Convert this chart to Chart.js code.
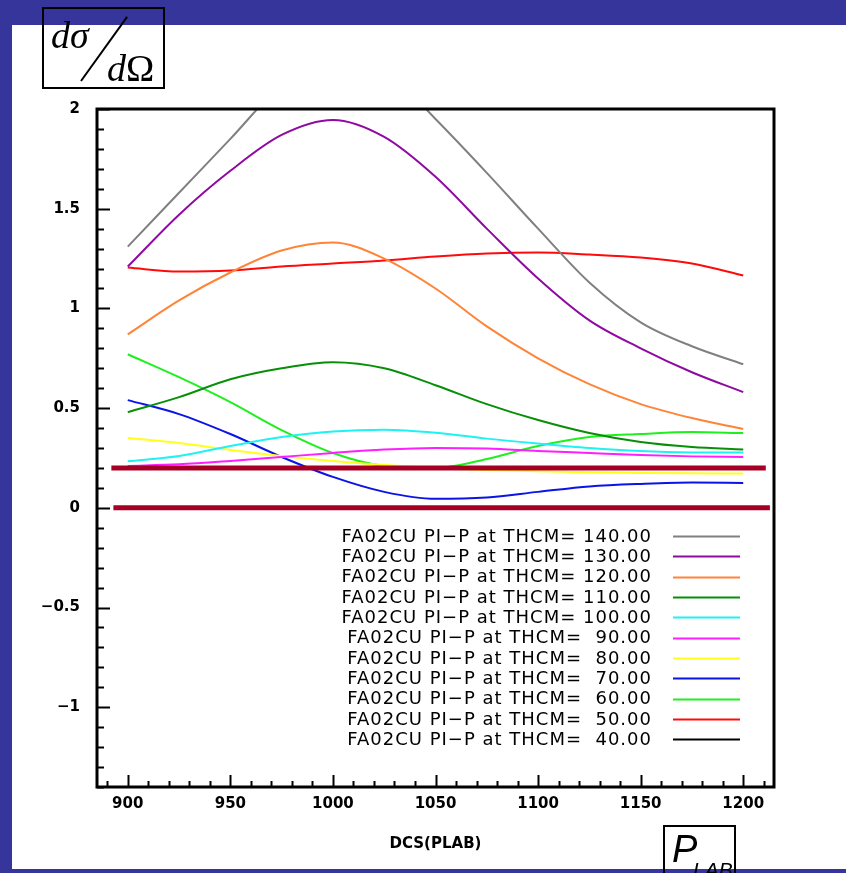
<!DOCTYPE html>
<html>
<head>
<meta charset="utf-8">
<script src="https://cdn.jsdelivr.net/npm/chart.js@4.4.1/dist/chart.umd.min.js"></script>
<style>
  body { margin: 0; background: #35359b; width: 846px; height: 873px; overflow: hidden; position: relative; }
  #panel { position: absolute; left: 12px; top: 25px; width: 834px; height: 844px; background: #fff; }
  #chart { position: absolute; left: 0; top: 0; }
  #dsig { position: absolute; left: 42px; top: 7px; width: 119px; height: 78px; border: 2px solid #000; }
  #dsig span { position: absolute; font-family: "Liberation Serif", serif; font-size: 38px; line-height: 38px; color: #000; white-space: nowrap; }
  #dsig .slash { position: absolute; left: 37px; top: 71px; width: 79px; height: 2px; background: #000; transform-origin: 0 50%; transform: rotate(-54.3deg); }
  #plab { position: absolute; left: 663px; top: 825px; width: 69px; height: 60px; border: 2px solid #000; border-bottom: none; }
  #plab span { position: absolute; font-family: "Liberation Sans", sans-serif; font-style: italic; color: #000; white-space: nowrap; }
</style>
</head>
<body>
<div id="panel"></div>
<canvas id="chart" width="846" height="873"></canvas>
<div id="dsig">
  <span style="left:7px;top:7px"><i>dσ</i></span>
  <div class="slash"></div>
  <span style="left:63px;top:40px"><i>d</i>Ω</span>
</div>
<div id="plab">
  <span style="left:7px;top:3px;font-size:38px;line-height:38px">P</span>
  <span style="left:28px;top:32px;font-size:21px;line-height:21px">LAB</span>
</div>
<script>
// beam momentum grid (MeV/c)
var pLab = [900, 925, 950, 975, 1000, 1025, 1050, 1075, 1100, 1125, 1150, 1175, 1200];

// dsigma/dOmega, one array per THCM angle
var th140 = [1.31, 1.58, 1.85, 2.12, 2.26, 2.2, 1.95, 1.68, 1.40, 1.13, 0.93, 0.81, 0.72];
var th130 = [1.21, 1.47, 1.69, 1.87, 1.945, 1.86, 1.66, 1.40, 1.15, 0.94, 0.80, 0.68, 0.58];
var th120 = [0.87, 1.04, 1.18, 1.29, 1.33, 1.25, 1.10, 0.91, 0.75, 0.62, 0.52, 0.45, 0.395];
var th110 = [0.48, 0.555, 0.645, 0.70, 0.73, 0.70, 0.615, 0.52, 0.44, 0.375, 0.33, 0.305, 0.293];
var th100 = [0.233, 0.26, 0.31, 0.355, 0.383, 0.392, 0.377, 0.347, 0.322, 0.30, 0.285, 0.278, 0.277];
var th90  = [0.21, 0.218, 0.235, 0.255, 0.275, 0.292, 0.30, 0.297, 0.285, 0.275, 0.265, 0.258, 0.255];
var th80  = [0.35, 0.325, 0.29, 0.26, 0.235, 0.215, 0.20, 0.19, 0.183, 0.178, 0.175, 0.173, 0.172];
var th70  = [0.54, 0.47, 0.37, 0.255, 0.155, 0.08, 0.045, 0.052, 0.08, 0.107, 0.12, 0.127, 0.125];
var th60  = [0.77, 0.655, 0.53, 0.39, 0.275, 0.21, 0.20, 0.245, 0.31, 0.355, 0.37, 0.38, 0.375];
var th50  = [1.205, 1.185, 1.19, 1.21, 1.225, 1.24, 1.26, 1.275, 1.28, 1.27, 1.255, 1.225, 1.165];
var th40  = [];

var angles = ['140.00', '130.00', '120.00', '110.00', '100.00', ' 90.00', ' 80.00', ' 70.00', ' 60.00', ' 50.00', ' 40.00'];
var values = [th140, th130, th120, th110, th100, th90, th80, th70, th60, th50, th40];
var colors = ['#808080', '#8e0aa0', '#ff8438', '#078f07', '#1ef2f2', '#ff1eff', '#ffff1e', '#0a14e6', '#1ef01e', '#ff0a0a', '#000000'];

// the two thick reference lines
var refLevel = [0.2, 0];
var refFrom = [892, 893];
var refTo = [1211, 1213];

var xTicks = [900, 950, 1000, 1050, 1100, 1150, 1200];
var yTicks = [-1, -0.5, 0, 0.5, 1, 1.5, 2];

var datasets = [];
for (var r = 0; r < refLevel.length; r++) {
  datasets.push({
    data: [{x: refFrom[r], y: refLevel[r]}, {x: refTo[r], y: refLevel[r]}],
    borderColor: '#a50024', borderWidth: 5, tension: 0, order: 0
  });
}
for (var i = 0; i < angles.length; i++) {
  var pts = values[i].map(function (v, k) { return {x: pLab[k], y: v}; });
  datasets.push({
    label: 'FA02CU PI−P at THCM= ' + angles[i],
    data: pts, borderColor: colors[i], borderWidth: 2, order: 1
  });
}

// frame + inward ticks, like the old plotting package
var frame = {
  id: 'frame',
  afterDraw: function (chart) {
    var c = chart.ctx, a = chart.chartArea, sx = chart.scales.x, sy = chart.scales.y;
    c.save();
    c.strokeStyle = '#000';
    c.lineWidth = 2;
    for (var k = -14; k <= 20; k++) {
      var py = Math.round(sy.getPixelForValue(k / 10)) + 0.5;
      var len = (k % 5 === 0) ? 13 : 7;
      c.beginPath(); c.moveTo(a.left, py); c.lineTo(a.left + len, py); c.stroke();
    }
    for (var xv = 890; xv <= 1210; xv += 10) {
      var px = Math.round(sx.getPixelForValue(xv)) + 0.5;
      var l2 = (xv % 50 === 0) ? 12 : 6;
      c.beginPath(); c.moveTo(px, a.bottom); c.lineTo(px, a.bottom - l2); c.stroke();
    }
    c.lineWidth = 3;
    c.strokeRect(a.left, a.top, a.right - a.left, a.bottom - a.top);
    c.restore();
  }
};

var legendRows = {
  id: 'legendRows',
  afterDraw: function (chart) {
    var c = chart.ctx;
    c.save();
    c.font = '18px "DejaVu Sans"';
    c.letterSpacing = '1px';
    c.textAlign = 'right';
    c.textBaseline = 'middle';
    c.fillStyle = '#000';
    var row = 0;
    chart.data.datasets.forEach(function (ds) {
      if (!ds.label) return;
      var y = 536 + row * 20.33;
      c.fillText(ds.label, 652, y + 1);
      c.strokeStyle = ds.borderColor;
      c.lineWidth = 2;
      c.beginPath(); c.moveTo(673, Math.round(y) + 0.5); c.lineTo(740, Math.round(y) + 0.5); c.stroke();
      row++;
    });
    c.restore();
  }
};

var tickFont = {family: '"DejaVu Sans"', size: 15, weight: 'bold'};

var chart = new Chart(document.getElementById('chart'), {
  type: 'line',
  data: {datasets: datasets},
  options: {
    responsive: false,
    animation: false,
    layout: {padding: {left: 0, top: 109, right: 72, bottom: 20}},
    elements: {
      point: {radius: 0},
      line: {tension: 0.4, cubicInterpolationMode: 'monotone'}
    },
    plugins: {legend: {display: false}, tooltip: {enabled: false}},
    scales: {
      x: {
        type: 'linear', min: 885, max: 1215,
        grid: {display: false, drawTicks: false}, border: {display: false},
        afterBuildTicks: function (s) { s.ticks = xTicks.map(function (v) { return {value: v}; }); },
        afterFit: function (s) { s.height = 66; },
        ticks: {padding: 8, color: '#000', font: tickFont, maxRotation: 0,
          callback: function (v) { return String(v); }},
        title: {display: true, text: 'DCS(PLAB)', color: '#000', font: {family: '"DejaVu Sans"', size: 15, weight: 'bold'}, padding: {top: 0, bottom: 0}}
      },
      y: {
        type: 'linear', min: -1.4, max: 2,
        grid: {display: false, drawTicks: false}, border: {display: false},
        afterBuildTicks: function (s) { s.ticks = yTicks.map(function (v) { return {value: v}; }); },
        afterFit: function (s) { s.width = 97; },
        ticks: {padding: 17, color: '#000', font: tickFont,
          callback: function (v) { return String(v).replace('-', '−'); }}
      }
    }
  },
  plugins: [frame, legendRows]
});
</script>
</body>
</html>
